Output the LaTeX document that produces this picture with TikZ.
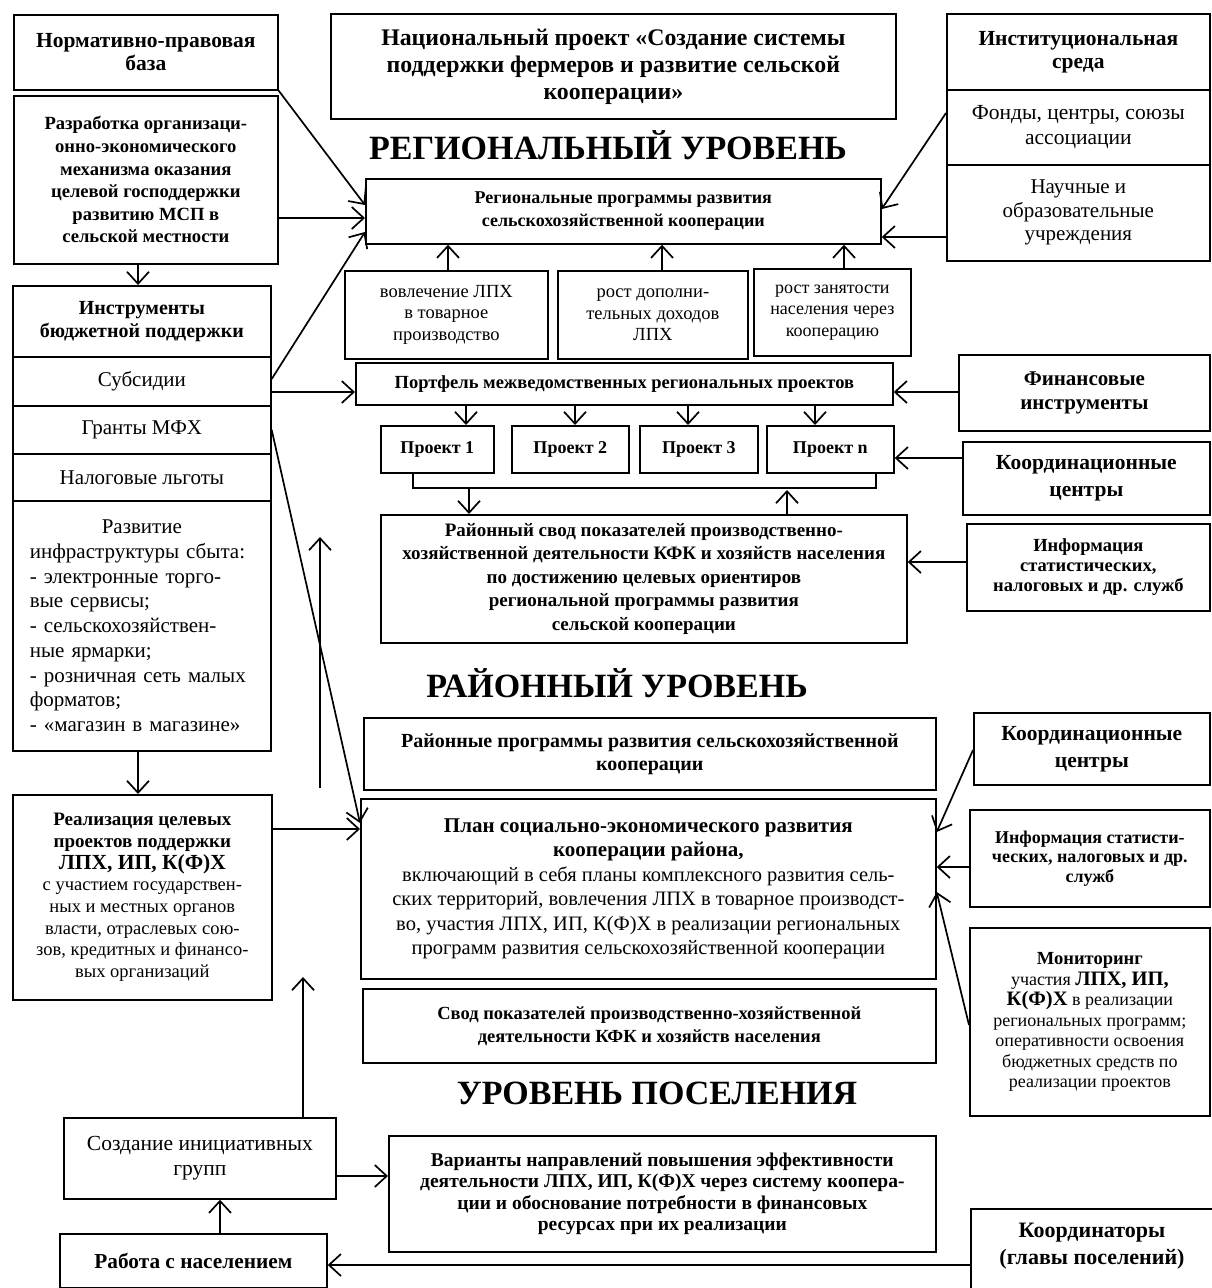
\documentclass[tikz,border=0pt]{standalone}
\usepackage{fontspec}
\setmainfont{Liberation Serif}
\usetikzlibrary{arrows.meta}
\newcommand\myfs[2]{\fontsize{#1}{#2}\selectfont}
\tikzset{
  box/.style={draw, line width=1.7pt, inner sep=2pt, align=center},
  arr/.style={line width=1.7pt, -{Straight Barb[length=12pt,width=22pt,line width=1.7pt]}},
  ln/.style={line width=1.7pt},
  bfb/.style={font=\myfs{21.5}{25}\bfseries},
  rgb/.style={font=\myfs{21}{24}},
  ttl/.style={font=\myfs{34}{38}\bfseries},
}
\newcommand\bx[7]{\node[box,#6,anchor=north west,minimum width={(#4-#2)*1pt},minimum height={(#5-#3)*1pt}] (#1) at (#2,#3) {#7};}
\begin{document}
\begin{tikzpicture}[x=1pt,y=-1pt]
\useasboundingbox (0,0) rectangle (1211,1288);
% ---- top row
\bx{norm}{13}{14}{277}{89}{font=\myfs{21.5}{23}\bfseries}{Нормативно-правовая\\база}
\bx{razr}{13}{95}{277}{263}{font=\myfs{18.6}{22.6}\bfseries}{Разработка организаци-\\онно-экономического\\механизма оказания\\целевой господдержки\\развитию МСП в\\сельской местности}
\bx{nat}{330}{13}{895}{118}{font=\myfs{23.8}{27}\bfseries}{Национальный проект «Создание системы\\поддержки фермеров и развитие сельской\\кооперации»}
\bx{inst}{946}{13}{1209}{89}{font=\myfs{21.5}{23}\bfseries}{Институциональная\\среда}
\bx{fond}{946}{89}{1209}{164}{font=\myfs{21.5}{25}}{Фонды, центры, союзы\\ассоциации}
\bx{nauch}{946}{164}{1209}{260}{font=\myfs{21}{23.5}}{Научные и\\образовательные\\учреждения}
\node[ttl] (t1) at (608,145) {РЕГИОНАЛЬНЫЙ УРОВЕНЬ};
% ---- regional
\bx{reg}{365}{178}{880}{243}{font=\myfs{18}{23}\bfseries}{Региональные программы развития\\сельскохозяйственной кооперации}
\bx{sba}{344}{270}{547}{358}{font=\myfs{18.5}{21.5}}{вовлечение ЛПХ\\в товарное\\производство}
\bx{sbb}{557}{270}{747}{358}{font=\myfs{18.5}{21.5}}{рост дополни-\\тельных доходов\\ЛПХ}
\bx{sbc}{753}{268}{910}{355}{font=\myfs{18}{21.5}}{рост занятости\\населения через\\кооперацию}
\bx{port}{355}{362}{892}{404}{font=\myfs{18.5}{21}\bfseries}{Портфель межведомственных региональных проектов}
\bx{pa}{380}{425}{493}{472}{font=\myfs{18}{21}\bfseries}{Проект 1}
\bx{pb}{511}{425}{628}{472}{font=\myfs{18}{21}\bfseries}{Проект 2}
\bx{pc}{639}{425}{757}{472}{font=\myfs{18}{21}\bfseries}{Проект 3}
\bx{pn}{766}{425}{893}{472}{font=\myfs{18}{21}\bfseries}{Проект n}
\bx{svoda}{380}{514}{906}{642}{font=\myfs{19}{23.5}\bfseries}{Районный свод показателей производственно-\\хозяйственной деятельности КФК и хозяйств населения\\по достижению целевых ориентиров\\региональной программы развития\\сельской кооперации}
\bx{fin}{958}{354}{1209}{430}{font=\myfs{21}{24}\bfseries}{Финансовые\\инструменты}
\bx{koorda}{962}{441}{1209}{514}{font=\myfs{21.5}{27}\bfseries}{Координационные\\центры}
\bx{infoa}{966}{523}{1209}{610}{font=\myfs{18.5}{20}\bfseries}{Информация\\статистических,\\налоговых и др. служб}
% ---- left column
\bx{instr}{12}{285}{270}{356}{font=\myfs{20}{23}\bfseries}{Инструменты\\бюджетной поддержки}
\bx{subs}{12}{356}{270}{405}{rgb}{Субсидии}
\bx{grant}{12}{405}{270}{453}{rgb}{Гранты МФХ}
\bx{nalog}{12}{453}{270}{500}{rgb}{Налоговые льготы}
\node[box,anchor=north west,align=left,text width=224pt,inner xsep=17pt,minimum height=250pt,font=\myfs{21}{24.7}] (razv) at (12,500) {\makebox[224pt]{Развитие}\\инфраструктуры сбыта:\\- электронные торго-\\вые сервисы;\\- сельскохозяйствен-\\ные ярмарки;\\- розничная сеть малых\\форматов;\\- «магазин в магазине»};
\bx{real}{12}{794}{271}{999}{font=\myfs{18.5}{21.7}}{{\myfs{19}{21.7}\bfseries Реализация целевых}\\{\myfs{19}{21.7}\bfseries проектов поддержки}\\{\myfs{21.5}{24}\bfseries ЛПХ, ИП, К(Ф)Х}\\с участием государствен-\\ных и местных органов\\власти, отраслевых сою-\\зов, кредитных и финансо-\\вых организаций}
% ---- district
\node[ttl] (t2) at (617,683) {РАЙОННЫЙ УРОВЕНЬ};
\bx{rprog}{363}{717}{935}{789}{font=\myfs{20}{23}\bfseries}{Районные программы развития сельскохозяйственной\\кооперации}
\bx{plan}{360}{798}{935}{978}{font=\myfs{20.5}{24.5}}{{\myfs{21}{24.5}\bfseries План социально-экономического развития}\\{\myfs{21}{24.5}\bfseries кооперации района,}\\включающий в себя планы комплексного развития сель-\\ских территорий, вовлечения ЛПХ в товарное производст-\\во, участия ЛПХ, ИП, К(Ф)Х в реализации региональных\\программ развития сельскохозяйственной кооперации}
\bx{svodb}{362}{988}{935}{1062}{font=\myfs{18.5}{23}\bfseries}{Свод показателей производственно-хозяйственной\\деятельности КФК и хозяйств населения}
\bx{koordb}{973}{712}{1209}{784}{font=\myfs{21.5}{27}\bfseries}{Координационные\\центры}
\bx{infob}{969}{809}{1209}{906}{font=\myfs{18}{19.5}\bfseries}{Информация статисти-\\ческих, налоговых и др.\\служб}
\bx{mon}{969}{927}{1209}{1115}{font=\myfs{18}{20.5}}{{\myfs{18.5}{21}\bfseries Мониторинг}\\участия {\myfs{20.5}{21}\bfseries ЛПХ, ИП,}\\{\myfs{20.5}{21}\bfseries К(Ф)Х} в реализации\\региональных программ;\\оперативности освоения\\бюджетных средств по\\реализации проектов}
% ---- settlement
\node[ttl] (t3) at (657,1093) {УРОВЕНЬ ПОСЕЛЕНИЯ};
\bx{sozd}{63}{1117}{335}{1198}{font=\myfs{21.5}{25}}{Создание инициативных\\групп}
\bx{rab}{59}{1233}{326}{1287}{font=\myfs{21.3}{25}\bfseries}{Работа с населением}
\bx{var}{388}{1135}{935}{1251}{font=\myfs{19.5}{21.5}\bfseries}{Варианты направлений повышения эффективности\\деятельности ЛПХ, ИП, К(Ф)Х через систему коопера-\\ции и обоснование потребности в финансовых\\ресурсах при их реализации}
\node[box,anchor=north west,minimum width=250pt,minimum height=90pt] (koordn) at (970,1208) {};
\node[font=\myfs{22}{27}\bfseries,align=center] (koordnt) at (1092,1246) {Координаторы\\(главы поселений)};
% ---- helper coordinates
\coordinate (brL) at (413,488);
\coordinate (brR) at (876,488);
\coordinate (brA) at (469,488);
\coordinate (brB) at (787,490);
\coordinate (vAa) at (320,788);
\coordinate (vAb) at (320,537);
\coordinate (vBb) at (303,977);
% ---- connectors
\draw[arr] (norm.south east) -- (reg.west |- 0,205);
\draw[arr] (razr.east |- 0,218) -- (reg.west |- 0,218);
\draw[arr] (subs.east |- 0,379) -- (reg.west |- 0,232);
\draw[arr] (fond.west |- 0,113) -- (reg.east |- 0,209);
\draw[arr] (nauch.west |- 0,237) -- (reg.east |- 0,237);
\draw[arr] (sba.north -| 448,0) -- (reg.south -| 448,0);
\draw[arr] (sbb.north -| 662,0) -- (reg.south -| 662,0);
\draw[arr] (sbc.north -| 844,0) -- (reg.south -| 844,0);
\draw[arr] (subs.east |- 0,392) -- (port.west |- 0,392);
\draw[arr] (fin.west |- 0,392) -- (port.east |- 0,392);
\draw[arr] (port.south -| 466,0) -- (pa.north -| 466,0);
\draw[arr] (port.south -| 575,0) -- (pb.north -| 575,0);
\draw[arr] (port.south -| 688,0) -- (pc.north -| 688,0);
\draw[arr] (port.south -| 815,0) -- (pn.north -| 815,0);
\draw[ln] (pa.south -| brL) -- (brL) -- (brR) -- (pn.south -| brR);
\draw[arr] (brA) -- (brA |- svoda.north);
\draw[arr] (svoda.north -| brB) -- (brB);
\draw[arr] (koorda.west |- 0,458) -- (pn.east |- 0,458);
\draw[arr] (infoa.west |- 0,562) -- (svoda.east |- 0,562);
\draw[arr] (razr.south -| 138,0) -- (instr.north -| 138,0);
\draw[arr] (razv.south -| 138,0) -- (real.north -| 138,0);
\draw[arr] (grant.east) -- (plan.west |- 0,823);
\draw[arr] (real.east |- 0,829) -- (plan.west |- 0,829);
\draw[arr] (vAa) -- (vAb);
\draw[arr] (sozd.north -| vBb) -- (vBb);
\draw[arr] (rab.north -| 220,0) -- (sozd.south -| 220,0);
\draw[arr] (sozd.east |- 0,1176) -- (var.west |- 0,1176);
\draw[arr] (koordn.west |- 0,1265) -- (rab.east |- 0,1265);
\draw[arr] (koordb.west |- 0,750) -- (plan.east |- 0,832);
\draw[arr] (infob.west |- 0,867) -- (plan.east |- 0,867);
\draw[arr] (mon.west |- 0,1025) -- (plan.east |- 0,892);
\end{tikzpicture}
\end{document}
